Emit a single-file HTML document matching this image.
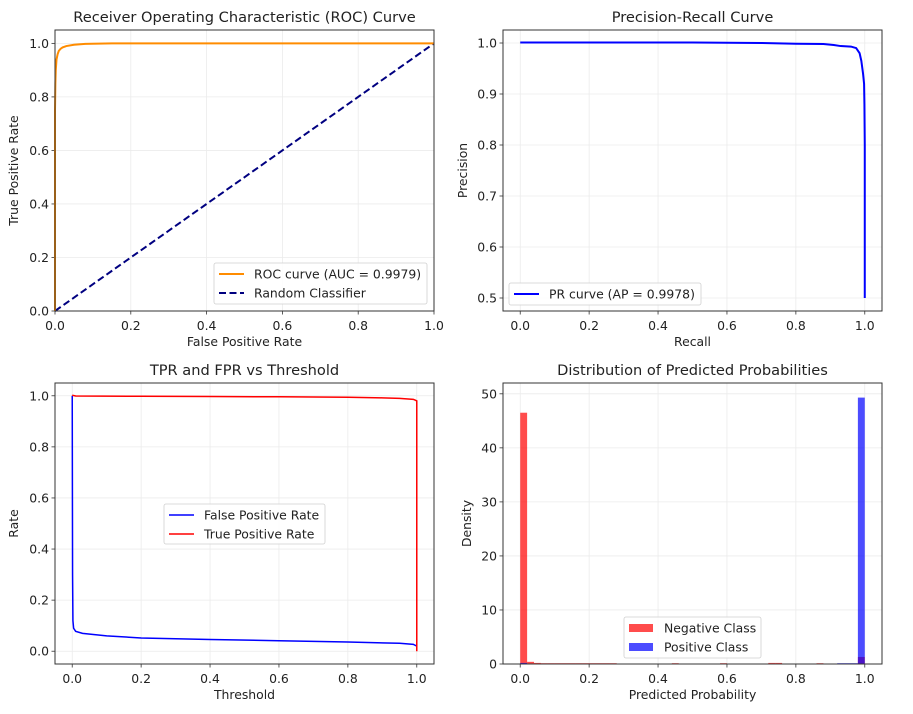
<!DOCTYPE html>
<html><head><meta charset="utf-8"><style>
body{margin:0;background:#fff}
svg{font-family:"DejaVu Sans","Liberation Sans",sans-serif;fill:#222}
text{fill:#222}
</style></head><body>
<svg id="s" width="913" height="709" viewBox="0 0 913 709"></svg>
<script>
// ROC data
const rocFpr=[0,0,0.001,0.002,0.004,0.007,0.01,0.015,0.02,0.03,0.05,0.08,0.15,0.4,1];
const rocTpr=[0,0.75,0.85,0.9,0.94,0.96,0.972,0.98,0.985,0.99,0.995,0.998,1,1,1];
// PR data
const prRecall=[0,0.3,0.5,0.7,0.8,0.88,0.91,0.93,0.96,0.975,0.985,0.99,0.995,0.998,0.999,1,1];
const prPrecision=[1.001,1.001,1.001,1.0,0.9985,0.998,0.996,0.994,0.993,0.99,0.98,0.965,0.94,0.92,0.88,0.8,0.5];
// Threshold data
const thrFpr=[0,0.001,0.002,0.004,0.01,0.03,0.1,0.2,0.4,0.6,0.8,0.95,0.99,1.0];
const fprVals=[1.0,0.3,0.12,0.09,0.078,0.07,0.06,0.052,0.046,0.041,0.036,0.031,0.027,0.02];
const thrTpr=[0,0.01,0.2,0.4,0.6,0.8,0.9,0.95,0.99,0.995,1.0,1.0];
const tprVals=[1.002,0.999,0.998,0.997,0.996,0.994,0.992,0.99,0.986,0.983,0.98,0.0];
// Histogram data (50 bins over 0..1)
const binCount=50;
const negDensity=[46.5,0.4,0.2,0.15,0.15,0.15,0.15,0.15,0.15,0.15,0.15,0.15,0.15,0.15,0,0,0,0,0,0,0,0,0.15,0,0,0,0,0,0,0.15,0,0,0,0,0,0,0.2,0.2,0,0,0,0,0,0.15,0,0,0,0,0,1.3];
const posDensity=[0.2,0,0,0,0,0,0,0,0,0,0,0,0,0,0,0,0,0,0,0,0,0,0,0,0,0,0,0,0,0,0,0,0,0,0,0,0,0,0,0,0,0,0,0,0,0,0.15,0.15,0.15,49.3];
const ticks01=[0,0.2,0.4,0.6,0.8,1.0];
const ticksPR=[0.5,0.6,0.7,0.8,0.9,1.0];
const ticksDen=[0,10,20,30,40,50];

const S=document.getElementById('s');const NS='http://www.w3.org/2000/svg';
const FS=12.4, TFS=14.6;
function el(t,a,p){const e=document.createElementNS(NS,t);for(const k in a)e.setAttribute(k,a[k]);(p||S).appendChild(e);return e;}
function txt(x,y,s,a,p){const e=el('text',Object.assign({x:x,y:y},a),p);e.textContent=s;return e;}
function axes(name,L,T,R,B,x0,x1,y0,y1){
  const g=el('g',{});
  
  
  const sx=v=>L+(v-x0)/(x1-x0)*(R-L), sy=v=>B-(v-y0)/(y1-y0)*(B-T);
  return {g,sx,sy,L,T,R,B};
}
function frame(A,xt,yt,fmt,title,xl,yl,ylx){
  const g=A.g;
  xt.forEach(v=>{const x=A.sx(v);el('line',{x1:x,x2:x,y1:A.T,y2:A.B,stroke:'#ebebeb','stroke-width':0.8},g);
    el('line',{x1:x,x2:x,y1:A.B,y2:A.B+3.5,stroke:'#333','stroke-width':0.8},g);
    const t=txt(x,A.B+19,fmt(v),{'font-size':FS,'text-anchor':'middle'},g);
    });
  yt.forEach(v=>{const y=A.sy(v);el('line',{x1:A.L,x2:A.R,y1:y,y2:y,stroke:'#ebebeb','stroke-width':0.8},g);
    el('line',{x1:A.L-3.5,x2:A.L,y1:y,y2:y,stroke:'#333','stroke-width':0.8},g);
    const t=txt(A.L-6,y+4.5,(Number.isInteger(v)&&yt[yt.length-1]>1)?String(v):v.toFixed(1),{'font-size':FS,'text-anchor':'end'},g);
    });
  const tt=txt((A.L+A.R)/2,A.T-8,title,{'font-size':TFS,'text-anchor':'middle'},g);
  
  const xa=txt((A.L+A.R)/2,A.B+35,xl,{'font-size':FS,'text-anchor':'middle'},g);
  
  const ya=txt(0,0,yl,{'font-size':FS,'text-anchor':'middle',transform:`translate(${ylx},${(A.T+A.B)/2}) rotate(-90)`},g);
  
}
function border(A){el('rect',{x:A.L,y:A.T,width:A.R-A.L,height:A.B-A.T,fill:'none',stroke:'#333','stroke-width':1},A.g);}
function line(A,xs,ys,attrs,name){const d=xs.map((v,i)=>(i?'L':'M')+A.sx(v).toFixed(2)+','+A.sy(ys[i]).toFixed(2)).join('');
  const p=el('path',Object.assign({d:d,fill:'none'},attrs),A.g);return p;}
function legend(A,x,y,w,h,items){
  const g=el('g',{},A.g);
  el('rect',{x:x,y:y,width:w,height:h,rx:2,fill:'#fff','fill-opacity':0.85,stroke:'#d0d0d0','stroke-width':0.8},g);
  items.forEach((it,i)=>{const yy=y+11+i*19;
    if(it.patch) el('rect',{x:x+5,y:yy-4,width:24,height:8,fill:it.color,'fill-opacity':0.7},g);
    else el('line',{x1:x+5,x2:x+30,y1:yy,y2:yy,stroke:it.color,'stroke-width':it.w||2,'stroke-dasharray':it.dash||''},g);
    const t=txt(x+40,yy+4.5,it.label,{'font-size':FS},g);});
}
const f1=v=>v.toFixed(1);
// ROC
let A=axes('roc-chart',55,30,434,311,0,1,0,1.05);
frame(A,ticks01,ticks01,f1,'Receiver Operating Characteristic (ROC) Curve','False Positive Rate','True Positive Rate',18);
line(A,[0,1],[0,1],{stroke:'#000080','stroke-width':2,'stroke-dasharray':'7,3.5'},'random-classifier-line');
line(A,rocFpr,rocTpr,{stroke:'#ff8c00','stroke-width':2},'roc-curve');
border(A);
legend(A,214,263,213,41,[{label:'ROC curve (AUC = 0.9979)',color:'#ff8c00'},{label:'Random Classifier',color:'#000080',dash:'7,3.5'}]);
// PR
A=axes('pr-chart',503,30,882,311,-0.05,1.05,0.4745,1.0255);
frame(A,ticks01,ticksPR,f1,'Precision-Recall Curve','Recall','Precision',467);
line(A,prRecall,prPrecision,{stroke:'#0000ff','stroke-width':2},'pr-curve');
border(A);
legend(A,509,283,192,22,[{label:'PR curve (AP = 0.9978)',color:'#0000ff'}]);
// Threshold
A=axes('threshold-chart',55,383,434,664,-0.05,1.05,-0.05,1.05);
frame(A,ticks01,ticks01,f1,'TPR and FPR vs Threshold','Threshold','Rate',18);
line(A,thrFpr,fprVals,{stroke:'#0000ff','stroke-width':1.5},'fpr-line');
line(A,thrTpr,tprVals,{stroke:'#ff0000','stroke-width':1.5},'tpr-line');
border(A);
legend(A,164,504,161,40,[{label:'False Positive Rate',color:'#0000ff',w:1.5},{label:'True Positive Rate',color:'#ff0000',w:1.5}]);
// Histogram
A=axes('histogram-chart',503,383,882,664,-0.05,1.05,0,52);
frame(A,ticks01,ticksDen,f1,'Distribution of Predicted Probabilities','Predicted Probability','Density',471);
const bw=1/binCount;
[[negDensity,'#ff0000','neg-bar'],[posDensity,'#0000ff','pos-bar']].forEach(([arr,c,n])=>{
  arr.forEach((v,i)=>{if(v<=0)return;const x=A.sx(i*bw),x2=A.sx((i+1)*bw),y=A.sy(v);
    const r=el('rect',{x:x,y:y,width:x2-x,height:A.B-y,fill:c,'fill-opacity':0.7},A.g);
    
    });
});
border(A);
legend(A,624,617,137,41,[{label:'Negative Class',color:'#ff0000',patch:1},{label:'Positive Class',color:'#0000ff',patch:1}]);
</script>
</body></html>
